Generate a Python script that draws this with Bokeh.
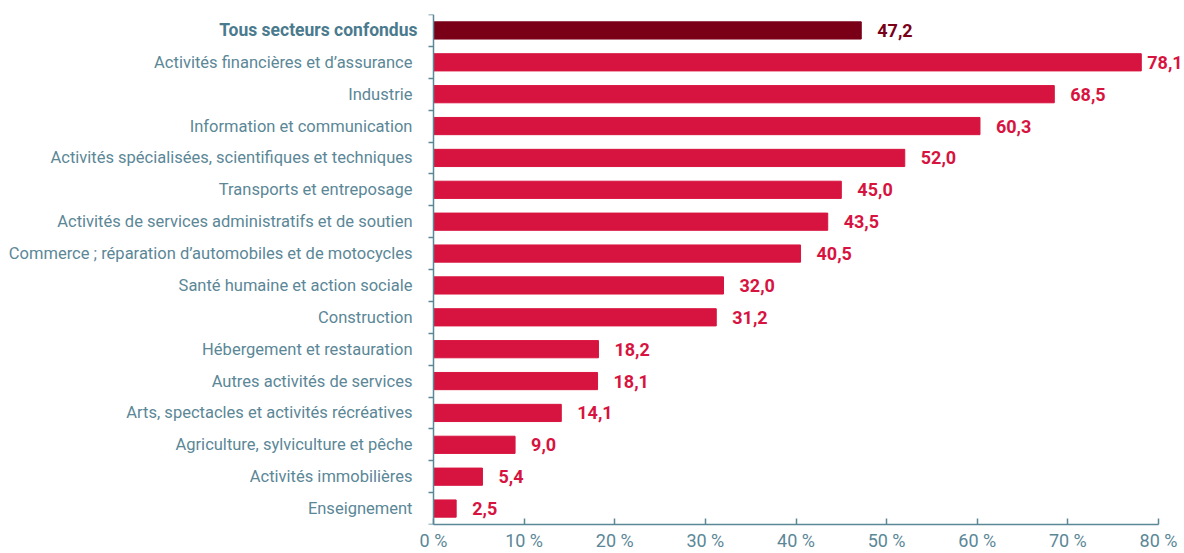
from bokeh.plotting import figure
from bokeh.models import FixedTicker, Range1d, Label, LabelSet, ColumnDataSource
from bokeh.core.properties import value
from bokeh.embed import file_html
from bokeh.resources import INLINE

# Data (top to bottom as displayed)
sectors = [
    "Tous secteurs confondus",
    "Activités financières et d’assurance",
    "Industrie",
    "Information et communication",
    "Activités spécialisées, scientifiques et techniques",
    "Transports et entreposage",
    "Activités de services administratifs et de soutien",
    "Commerce ; réparation d’automobiles et de motocycles",
    "Santé humaine et action sociale",
    "Construction",
    "Hébergement et restauration",
    "Autres activités de services",
    "Arts, spectacles et activités récréatives",
    "Agriculture, sylviculture et pêche",
    "Activités immobilières",
    "Enseignement",
]
values = [47.2, 78.1, 68.5, 60.3, 52.0, 45.0, 43.5, 40.5, 32.0, 31.2, 18.2, 18.1, 14.1, 9.0, 5.4, 2.5]
x_ticks = [0, 10, 20, 30, 40, 50, 60, 70, 80]

FONT = "Roboto"
AXIS_COLOR = "#5b8797"
RED = "#d7143f"
DARK = "#7a0018"

# layout geometry (pixels)
W, H = 1184, 553
AXIS_PX, END_PX = 433, 1158
scale = (END_PX - AXIS_PX) / x_ticks[-1]

n = len(sectors)
ypos = [n - 1 - i for i in range(n)]
colors = [DARK] + [RED] * (n - 1)
labels = [f"{v:.1f}".replace(".", ",") for v in values]
offsets = [6 if v > 75 else 16 for v in values]

src = ColumnDataSource(dict(y=ypos, v=values, c=colors, lab=labels, off=offsets))

p = figure(width=W, height=H, output_backend="svg", toolbar_location=None,
           x_range=Range1d(-AXIS_PX / scale, (W - AXIS_PX) / scale),
           y_range=Range1d(-0.5, n - 0.5),
           min_border_left=0, min_border_right=0, min_border_top=14, min_border_bottom=27)
p.outline_line_color = None
p.grid.grid_line_color = None
p.background_fill_color = "white"

p.hbar(y="y", right="v", left=0, height=0.54, color="c", source=src)
p.add_layout(LabelSet(x="v", y="y", text="lab", x_offset="off", text_baseline="middle",
                      text_align="left", text_color="c", text_font=value(FONT),
                      text_font_style="bold", text_font_size="18px", source=src))

# y axis (drawn at x = 0)
yax = p.yaxis[0]
yax.fixed_location = 0
yax.ticker = FixedTicker(ticks=ypos[1:], minor_ticks=[i - 0.5 for i in range(n + 1)])
yax.major_label_overrides = {yp: s for yp, s in zip(ypos[1:], sectors[1:])}
yax.major_tick_line_color = None
yax.major_tick_out = 0
yax.major_tick_in = 0
yax.minor_tick_out = 5
yax.minor_tick_in = 0
yax.minor_tick_line_color = AXIS_COLOR
yax.minor_tick_line_width = 1.5
yax.axis_line_color = AXIS_COLOR
yax.axis_line_width = 1.5
yax.major_label_text_color = AXIS_COLOR
yax.major_label_text_font = FONT
yax.major_label_text_font_size = "16.5px"
yax.major_label_standoff = 16

p.add_layout(Label(x=0, y=ypos[0], text=sectors[0], x_offset=-16, text_align="right",
                   text_baseline="middle", text_color="#4a7a8d", text_font=FONT,
                   text_font_style="bold", text_font_size="17.5px"))

# x axis
xax = p.xaxis[0]
xax.bounds = (x_ticks[0], x_ticks[-1])
xax.ticker = FixedTicker(ticks=x_ticks)
xax.major_label_overrides = {t: f"{t} %" for t in x_ticks}
xax.major_tick_in = 6
xax.major_tick_out = 0
xax.minor_tick_line_color = None
xax.major_tick_line_color = AXIS_COLOR
xax.major_tick_line_width = 1.5
xax.axis_line_color = AXIS_COLOR
xax.axis_line_width = 1.5
xax.major_label_text_color = AXIS_COLOR
xax.major_label_text_font = FONT
xax.major_label_text_font_size = "18px"
xax.major_label_standoff = 5

open("out.html", "w").write(file_html(p, INLINE))
